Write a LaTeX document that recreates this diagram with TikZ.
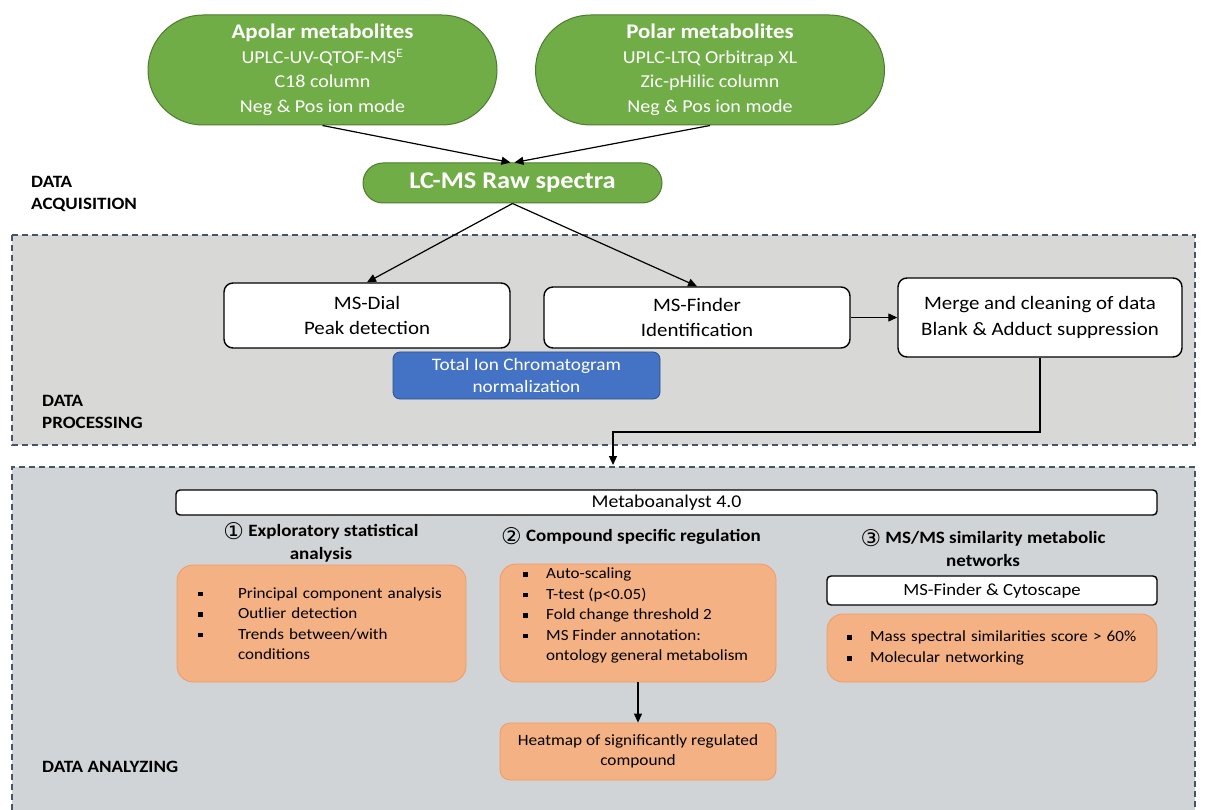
\documentclass[tikz,border=0pt]{standalone}
\usepackage{fontspec}
\setmainfont{Carlito}[FakeStretch=1.1]
\newfontfamily\symfont{DejaVu Sans}
\usetikzlibrary{arrows.meta,positioning,shapes.misc}

\definecolor{leafgreen}{HTML}{70AD47}
\definecolor{leafedge}{HTML}{4E7A31}
\definecolor{tealblue}{HTML}{4472C4}
\definecolor{tealedge}{HTML}{2F528F}
\definecolor{peach}{HTML}{F4B183}
\definecolor{peachedge}{HTML}{EE9B68}
\definecolor{procgray}{HTML}{D8D9D6}
\definecolor{anagray}{HTML}{D1D4D7}
\definecolor{slateedge}{HTML}{44546A}

\newcommand{\bul}{\rule[2pt]{4.5pt}{4.5pt}}
\newcommand{\blt}[1]{\makebox[#1][l]{\bul}}
\newcommand{\circnum}[1]{\raisebox{-2.5pt}{\symfont\mdseries\fontsize{23}{23}\selectfont #1}}

\tikzset{
  pill/.style={rounded rectangle, draw=leafedge, fill=leafgreen, text=white,
    line width=1pt, align=center, inner sep=0pt},
  whitebox/.style={rectangle, rounded corners=9pt, draw=black, fill=white,
    line width=1.4pt, align=center, inner sep=0pt},
  bluebox/.style={rectangle, rounded corners=7pt, draw=tealedge, fill=tealblue,
    text=white, line width=0.8pt, align=center, inner sep=0pt,
    font=\fontsize{17.5}{22}\selectfont},
  peachbox/.style={rectangle, rounded corners=16pt, draw=peachedge, fill=peach,
    line width=0.8pt, inner ysep=0pt, font=\fontsize{15.5}{20.5}\selectfont},
  listtext/.style={anchor=north west, align=left, inner sep=0pt,
    font=\fontsize{15.5}{20.5}\selectfont},
  zonelabel/.style={anchor=west, align=left, inner sep=0pt,
    font=\bfseries\fontsize{17.3}{22}\selectfont},
  heading/.style={align=center, inner sep=0pt, font=\bfseries\fontsize{17.3}{23}\selectfont},
  arw/.style={-{Triangle[length=9pt,width=8pt]}, line width=1.2pt},
  zoneline/.style={draw=slateedge, line width=1.3pt, dash pattern=on 6pt off 4pt}
}

\begin{document}
\begin{tikzpicture}[x=1pt,y=-1pt]
\useasboundingbox (0,0) rectangle (1205,810);

% zones
\fill[procgray] (12,235) rectangle (1195,445);
\draw[zoneline] (12,235) rectangle (1195,445);
\fill[anagray] (12,467) rectangle (1195,810);
\draw[zoneline] (12,810) -- (12,467) -- (1195,467) -- (1195,810);

% data acquisition
\node[pill, minimum width=349pt, minimum height=110pt,
  font=\fontsize{18.2}{24.5}\selectfont] (apolar) at (322.5,70)
  {{\bfseries\fontsize{20.8}{24.5}\selectfont Apolar metabolites}\\
   UPLC-UV-QTOF-MS\textsuperscript{E}\\ C18 column\\ Neg \& Pos ion mode};
\node[pill, minimum width=349pt, minimum height=110pt,
  font=\fontsize{18.2}{24.5}\selectfont] (polar) at (710,70)
  {{\bfseries\fontsize{20.8}{24.5}\selectfont Polar metabolites}\\
   UPLC-LTQ Orbitrap XL\\ Zic-pHilic column\\ Neg \& Pos ion mode};
\node[pill, minimum width=299pt, minimum height=40pt,
  font=\bfseries\fontsize{24}{26}\selectfont] (raw) at (512.5,183) {LC-MS Raw spectra};
  \draw[arw] (apolar.south) to ([xshift=-2pt]raw.north);
  \draw[arw] (polar.south) to ([xshift=2pt]raw.north);
\node[zonelabel] (acqlbl) at (31,194) {DATA\\ACQUISITION};

% data processing
\node[whitebox, minimum width=286pt, minimum height=65pt,
  font=\fontsize{19}{25}\selectfont] (dial) at (367,315.5) {MS-Dial\\Peak detection};
\node[whitebox, minimum width=306pt, minimum height=61pt,
  font=\fontsize{19}{25}\selectfont] (finder) at (697,317.5) {MS-Finder\\Identification};
\node[whitebox, minimum width=284pt, minimum height=79pt,
  font=\fontsize{19}{26}\selectfont] (merge) at (1040,317.5)
  {Merge and cleaning of data\\Blank \& Adduct suppression};
\node[bluebox, minimum width=267pt, minimum height=47pt] (tic) at (526.5,375.5)
  {Total Ion Chromatogram\\normalization};
  \draw[arw] (raw.south) to (dial.north);
  \draw[arw] (raw.south) to (finder.north);
  \draw[arw] (finder.east) to (merge.west);
\node[zonelabel] (proclbl) at (42,412) {DATA\\PROCESSING};
\coordinate (bend) at (613,432);
\coordinate (into) at (613,465);
  \draw[arw] (merge.south) |- (bend) -- (into);

% data analyzing
\node[whitebox, rounded corners=4pt, minimum width=981pt, minimum height=25pt,
  font=\fontsize{18}{20}\selectfont] (meta) at (666.5,502.5) {Metaboanalyst 4.0};
\node[heading] (head1) at (321,542.5)
  {\circnum{①} Exploratory statistical\\analysis};
\node[heading] (head2) at (631,536) {\circnum{②} Compound specific regulation};
\node[heading] (head3) at (983,548)
  {\circnum{③} MS/MS similarity metabolic\\networks};

\node[peachbox, minimum width=289pt, minimum height=117pt, inner xsep=21pt,
  text width=247pt, align=left] (explore) at (321.5,623.5)
  {\blt{40pt}Principal component analysis\\
   \blt{40pt}Outlier detection\\
   \blt{40pt}Trends between/with\\
   \hspace*{40pt}conditions};
\node[peachbox, minimum width=276pt, minimum height=118pt] (regul) at (638,623) {};
\node[listtext] (regultxt) at (523,568)
  {\blt{23pt}Auto-scaling\\
   \blt{23pt}T-test (p<0.05)\\
   \blt{23pt}Fold change threshold 2\\
   \blt{23pt}MS Finder annotation:\\
   \hspace*{23pt}ontology general metabolism};
\node[whitebox, rounded corners=4pt, minimum width=330pt, minimum height=29pt,
  font=\fontsize{17}{20}\selectfont] (cyto) at (992,590.5) {MS-Finder \& Cytoscape};
\node[peachbox, minimum width=330pt, minimum height=68pt, inner xsep=20pt,
  text width=290pt, align=left, font=\fontsize{15.5}{21}\selectfont] (network) at (992,648)
  {\blt{23pt}Mass spectral similarities score > 60\%\\
   \blt{23pt}Molecular networking};
\node[peachbox, rounded corners=10pt, minimum width=276pt, minimum height=57pt,
  align=center, font=\fontsize{15.7}{20.5}\selectfont] (heat) at (638,751.5)
  {Heatmap of significantly regulated\\compound};
  \draw[arw] (regul.south) to (heat.north);
\node[zonelabel] (analbl) at (42,767) {DATA ANALYZING};
\end{tikzpicture}
\end{document}
